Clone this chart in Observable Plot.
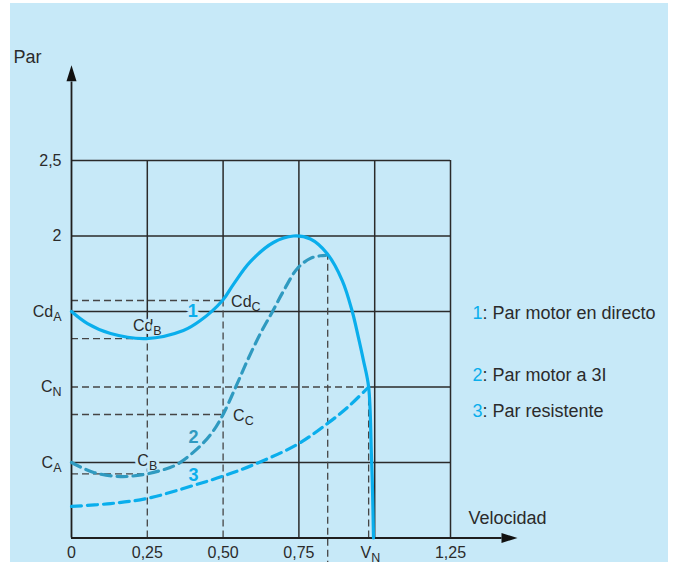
<!DOCTYPE html>
<html>
<head>
<meta charset="utf-8">
<script src="https://cdn.jsdelivr.net/npm/d3@7"></script>
<script src="https://cdn.jsdelivr.net/npm/@observablehq/plot@0.6"></script>
<style>
  html, body { margin: 0; padding: 0; background: #ffffff; }
  #wrap { position: relative; width: 675px; height: 562px; overflow: hidden; }
  #panel { position: absolute; left: 10px; top: 3px; width: 658px; height: 559px; background: #c7e9f8; }
  #chart { position: absolute; left: 0; top: 0; }
  #chart svg { display: block; }
</style>
</head>
<body>
<div id="wrap"><div id="panel"></div><div id="chart"></div></div>
<script>
// ---------- data ----------
const xTickVals = [0, 0.25, 0.5, 0.75, 0.986, 1.25];
const xTickText = ["0", "0,25", "0,50", "0,75", "V_N", "1,25"];
const yTickVals = [0.5, 1.0, 1.5, 2.0, 2.5];
const yTickText = ["C_A", "C_N", "Cd_A", "2", "2,5"];
const gridX = [0.25, 0.5, 0.75, 1.0, 1.25];
const gridY = [0.5, 1.0, 1.5, 2.0, 2.5];

// Curve 1: Par motor en directo
const curve1X = [0, 0.053, 0.129, 0.247, 0.369, 0.425, 0.498, 0.534, 0.59, 0.666, 0.732, 0.788, 0.843, 0.893, 0.926, 0.946, 0.963, 0.98, 0.989, 0.993, 0.996];
const curve1Y = [1.5, 1.42, 1.354, 1.321, 1.374, 1.44, 1.573, 1.68, 1.83, 1.957, 2.0, 1.98, 1.884, 1.705, 1.5, 1.33, 1.175, 1.0, 0.56, 0.3, 0];
// Curve 2: Par motor a 3I
const curve2X = [0, 0.073, 0.162, 0.237, 0.294, 0.35, 0.425, 0.468, 0.5, 0.541, 0.58, 0.623, 0.663, 0.699, 0.745, 0.788, 0.821, 0.838];
const curve2Y = [0.5, 0.434, 0.407, 0.42, 0.447, 0.49, 0.61, 0.71, 0.818, 0.997, 1.175, 1.354, 1.5, 1.635, 1.785, 1.852, 1.869, 1.872];
// Curve 3: Par resistente
const curve3X = [0, 0.129, 0.25, 0.402, 0.5, 0.6, 0.745, 0.844, 0.91, 0.98];
const curve3Y = [0.209, 0.228, 0.262, 0.348, 0.41, 0.485, 0.62, 0.758, 0.864, 1.0];

// Marked operating points
const pointNames = ["Cd_B", "Cd_C", "C_B", "C_C", "C_N"];
const pointX = [0.25, 0.5, 0.25, 0.5, 0.98];
const pointY = [1.321, 1.573, 0.425, 0.818, 1.0];
const peak2X = 0.845, peak2Y = 1.872;

const curveNums = ["1", "2", "3"];
const curveLabelX = [0.4, 0.402, 0.402];
const curveLabelY = [1.5, 0.666, 0.414];
const legendText = [": Par motor en directo", ": Par motor a 3I", ": Par resistente"];

// ---------- styling ----------
const CYAN = "#0aaeec", TEAL = "#2f9ac0", GRID = "#2a2a2a", DASH = "#454545", INK = "#2b2b2b", BG = "#c7e9f8";
const font = "'Liberation Sans', Arial, Helvetica, sans-serif";

const pts = (X, Y) => X.map((x, i) => ({x, y: Y[i]}));
const c1 = pts(curve1X, curve1Y), c2 = pts(curve2X, curve2Y), c3 = pts(curve3X, curve3Y);
const P = pointNames.map((n, i) => ({n, x: pointX[i], y: pointY[i]}));
const get = n => P.find(d => d.n === n);

// solid grid (vertical lines at 0.25 / 0.5 become dashed below their operating point)
const vGrid = gridX.map(x => ({x, y1: x === 0.25 ? get("Cd_B").y : x === 0.5 ? get("Cd_C").y : 0, y2: 2.5}));
const hGrid = gridY.map(y => ({y, x1: y === 1.0 ? get("C_N").x : 0, x2: 1.25}));
// dashed helper lines
const hDash = P.map(d => ({y: d.y, x1: 0, x2: d.x}));
const vDash = [
  {x: get("Cd_B").x, y1: 0, y2: get("Cd_B").y},
  {x: get("Cd_C").x, y1: 0, y2: get("Cd_C").y},
  {x: get("C_N").x, y1: 0, y2: get("C_N").y},
  {x: peak2X, y1: -0.2, y2: peak2Y}
];

const arrowHead = { draw(ctx) { ctx.moveTo(0, 0); ctx.lineTo(5, 16); ctx.lineTo(-5, 16); ctx.closePath(); } };
const nums = curveNums.map((t, i) => ({t, x: curveLabelX[i], y: curveLabelY[i], c: i === 1 ? TEAL : CYAN}));
const legendDy = [312.5, 375, 411];

const pointLabel = (name, opts) => Plot.text([get(name)], {x: "x", y: "y", text: "n", fontSize: 16, fill: INK, ...opts});
const halo = {stroke: BG, strokeWidth: 6, paintOrder: "stroke"};

const chart = Plot.plot({
  width: 675,
  height: 562,
  margin: 0,
  x: {domain: [0, 1.25], range: [71, 450], axis: null},
  y: {domain: [0, 2.5], range: [537.5, 160], axis: null},
  style: {background: "transparent", fontFamily: font, overflow: "visible", color: INK},
  marks: [
    // grid
    Plot.ruleX(vGrid, {x: "x", y1: "y1", y2: "y2", stroke: GRID, strokeWidth: 1.5}),
    Plot.ruleY(hGrid, {y: "y", x1: "x1", x2: "x2", stroke: GRID, strokeWidth: 1.5}),
    // dashed helpers
    Plot.ruleY(hDash, {y: "y", x1: "x1", x2: "x2", stroke: DASH, strokeWidth: 1.3, strokeDasharray: "7,4"}),
    Plot.ruleX(vDash, {x: "x", y1: "y1", y2: "y2", stroke: DASH, strokeWidth: 1.3, strokeDasharray: "7,4"}),
    // axes with arrows
    Plot.ruleY([0], {x1: 0, x2: 1.42, stroke: "#1e1e1e", strokeWidth: 1.8}),
    Plot.ruleX([0], {y1: 0, y2: 3.02, stroke: "#1e1e1e", strokeWidth: 1.8}),
    Plot.dot([{x: 0, y: 3.13}], {x: "x", y: "y", symbol: arrowHead, fill: "#111", stroke: null}),
    Plot.dot([{x: 1.471, y: 0}], {x: "x", y: "y", symbol: arrowHead, rotate: 90, fill: "#111", stroke: null}),
    // labels that interrupt grid lines
    pointLabel("Cd_B", {textAnchor: "middle", dy: -13, ...halo}),
    Plot.text([get("C_B")], {x: "x", y: 0.5, text: "n", textAnchor: "middle", dy: -2, fontSize: 16, fill: INK, ...halo}),
    Plot.text(nums.slice(0, 1), {x: "x", y: "y", text: "t", textAnchor: "middle", fontSize: 18, fontWeight: "bold", fill: "c", stroke: BG, strokeWidth: 7, paintOrder: "stroke"}),
    // curves
    Plot.line(c3, {x: "x", y: "y", curve: "catmull-rom", stroke: CYAN, strokeWidth: 3.2, strokeDasharray: "10,6"}),
    Plot.line(c2, {x: "x", y: "y", curve: "catmull-rom", stroke: TEAL, strokeWidth: 3.2, strokeDasharray: "10,6"}),
    Plot.line(c1, {x: "x", y: "y", curve: "catmull-rom", stroke: CYAN, strokeWidth: 3.2}),
    // other labels
    Plot.text(nums.slice(1), {x: "x", y: "y", text: "t", textAnchor: "middle", fontSize: 18, fontWeight: "bold", fill: "c"}),
    pointLabel("Cd_C", {textAnchor: "start", dx: 8, dy: 1}),
    pointLabel("C_C", {textAnchor: "start", dx: 10, dy: 1}),
    // tick labels
    Plot.text(xTickVals, {x: d => d, y: 0, text: (d, i) => xTickText[i], dy: 15, textAnchor: "middle", fontSize: 16, fill: INK}),
    Plot.text(yTickVals, {x: 0, y: d => d, text: (d, i) => yTickText[i], dx: -10, textAnchor: "end", fontSize: 16, fill: INK}),
    // axis titles
    Plot.text(["Par"], {frameAnchor: "top-left", dx: 13, dy: 57, textAnchor: "start", lineAnchor: "middle", fontSize: 18, fill: INK}),
    Plot.text(["Velocidad"], {frameAnchor: "top-left", dx: 468, dy: 517.5, textAnchor: "start", lineAnchor: "middle", fontSize: 18, fill: INK}),
    // legend
    ...legendText.flatMap((t, i) => [
      Plot.text([curveNums[i]], {frameAnchor: "top-left", dx: 472, dy: legendDy[i], textAnchor: "start", lineAnchor: "middle", fontSize: 18, fill: CYAN}),
      Plot.text([t], {frameAnchor: "top-left", dx: 482, dy: legendDy[i], textAnchor: "start", lineAnchor: "middle", fontSize: 18, fill: INK})
    ])
  ]
});

// subscripts: "X_Y" -> X with subscript Y
const NS = "http://www.w3.org/2000/svg";
chart.querySelectorAll("text, tspan").forEach(el => {
  if (el.childElementCount === 0 && el.textContent.includes("_")) {
    const [main, sub] = el.textContent.split("_");
    el.textContent = "";
    const t1 = document.createElementNS(NS, "tspan");
    t1.textContent = main;
    const t2 = document.createElementNS(NS, "tspan");
    t2.textContent = sub;
    t2.setAttribute("font-size", "0.78em");
    t2.setAttribute("dy", "0.32em");
    el.append(t1, t2);
  }
});

document.getElementById("chart").append(chart);
</script>
</body>
</html>
